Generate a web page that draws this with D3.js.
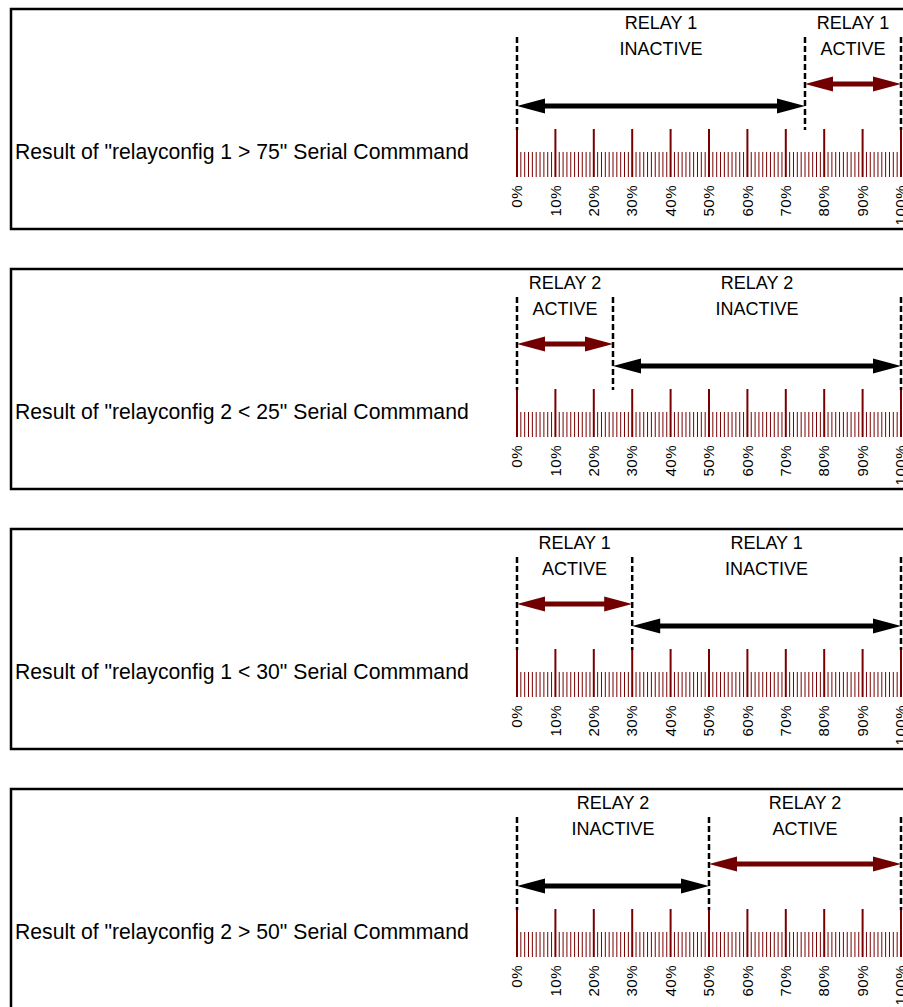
<!DOCTYPE html>
<html>
<head>
<meta charset="utf-8">
<script src="https://cdnjs.cloudflare.com/ajax/libs/d3/7.8.5/d3.min.js"></script>
<style>
  body { margin: 0; background: #fff; }
  svg { display: block; font-family: "Liberation Sans", Arial, sans-serif; }
</style>
</head>
<body>
<div id="chart"></div>
<script>
// one entry per panel
var commands = ['relayconfig 1 > 75', 'relayconfig 2 < 25', 'relayconfig 1 < 30', 'relayconfig 2 > 50'];
var relays = [1, 2, 1, 2];
var operators = ['>', '<', '<', '>'];
var thresholds = [75, 25, 30, 50];
var majorTicks = [0, 10, 20, 30, 40, 50, 60, 70, 80, 90, 100];
var tickLabels = ['0%', '10%', '20%', '30%', '40%', '50%', '60%', '70%', '80%', '90%', '100%'];

var W = 903, H = 1007;
var red = '#720000', tickRed = '#7a0000';
var panelStep = 260, panelTop = 9;

var svg = d3.select('#chart').append('svg')
  .attr('width', W)
  .attr('height', H);

var x = d3.scaleLinear().domain([0, 100]).range([517, 901]);
var minorTicks = x.ticks(100).filter(function (d) { return majorTicks.indexOf(d) < 0; });

commands.forEach(function (cmd, i) {
  var g = svg.append('g')
    .attr('transform', translation(0, panelTop + i * panelStep));

  // frame
  g.append('rect')
    .attr('x', 11).attr('y', 0)
    .attr('width', 920).attr('height', 220)
    .attr('fill', 'none')
    .attr('stroke', '#000')
    .attr('stroke-width', 2.5);

  g.append('text')
    .attr('x', 15).attr('y', 149.5)
    .style('font-size', '21.2px')
    .text('Result of "' + cmd + '" Serial Commmand');

  // ruler
  g.selectAll('.minor')
    .data(minorTicks)
    .enter().append('line')
    .attr('x1', function (d) { return x(d); })
    .attr('x2', function (d) { return x(d); })
    .attr('y1', 143).attr('y2', 168)
    .attr('stroke', tickRed)
    .attr('stroke-width', 1);

  g.selectAll('.major')
    .data(majorTicks)
    .enter().append('line')
    .attr('x1', function (d) { return x(d); })
    .attr('x2', function (d) { return x(d); })
    .attr('y1', 120).attr('y2', 168)
    .attr('stroke', tickRed)
    .attr('stroke-width', 2);

  g.selectAll('.lbl')
    .data(majorTicks)
    .enter().append('text')
    .attr('transform', function (d) { return translation(x(d), 176) + 'rotate(-90)'; })
    .attr('dy', '0.35em')
    .attr('text-anchor', 'end')
    .style('font-size', '15px')
    .style('letter-spacing', '0.5px')
    .text(function (d, j) { return tickLabels[j]; });

  // segments
  var t = thresholds[i];
  var segs = operators[i] === '>'
    ? [{ a: 0, b: t, on: false }, { a: t, b: 100, on: true }]
    : [{ a: 0, b: t, on: true }, { a: t, b: 100, on: false }];

  [0, t, 100].forEach(function (v) {
    g.append('line')
      .attr('x1', x(v)).attr('x2', x(v))
      .attr('y1', 28).attr('y2', 121)
      .attr('stroke', '#000')
      .attr('stroke-width', 2.5)
      .attr('stroke-dasharray', '6,3');
  });

  segs.forEach(function (s) {
    var cx = (x(s.a) + x(s.b)) / 2;
    var col = s.on ? red : '#000';
    var ay = s.on ? 75 : 97;
    drawArrow(g, x(s.a), x(s.b), ay, col);
    g.append('text')
      .attr('x', cx).attr('y', 19.5)
      .attr('text-anchor', 'middle')
      .style('font-size', '18px')
      .text('RELAY ' + relays[i]);
    g.append('text')
      .attr('x', cx).attr('y', 45.5)
      .attr('text-anchor', 'middle')
      .style('font-size', '18px')
      .text(s.on ? 'ACTIVE' : 'INACTIVE');
  });
});

function drawArrow(g, x0, x1, y, col) {
  var hl = 28, hw = 7.5;
  g.append('line')
    .attr('x1', x0 + hl - 4).attr('x2', x1 - hl + 4)
    .attr('y1', y).attr('y2', y)
    .attr('stroke', col)
    .attr('stroke-width', 5);
  g.append('path')
    .attr('d', 'M' + x0 + ',' + y + 'L' + (x0 + hl) + ',' + (y - hw) + 'L' + (x0 + hl) + ',' + (y + hw) + 'Z' +
               'M' + x1 + ',' + y + 'L' + (x1 - hl) + ',' + (y - hw) + 'L' + (x1 - hl) + ',' + (y + hw) + 'Z')
    .attr('fill', col);
}

function translation(x, y) {
  return 'translate(' + x + ',' + y + ')';
}
</script>
</body>
</html>
